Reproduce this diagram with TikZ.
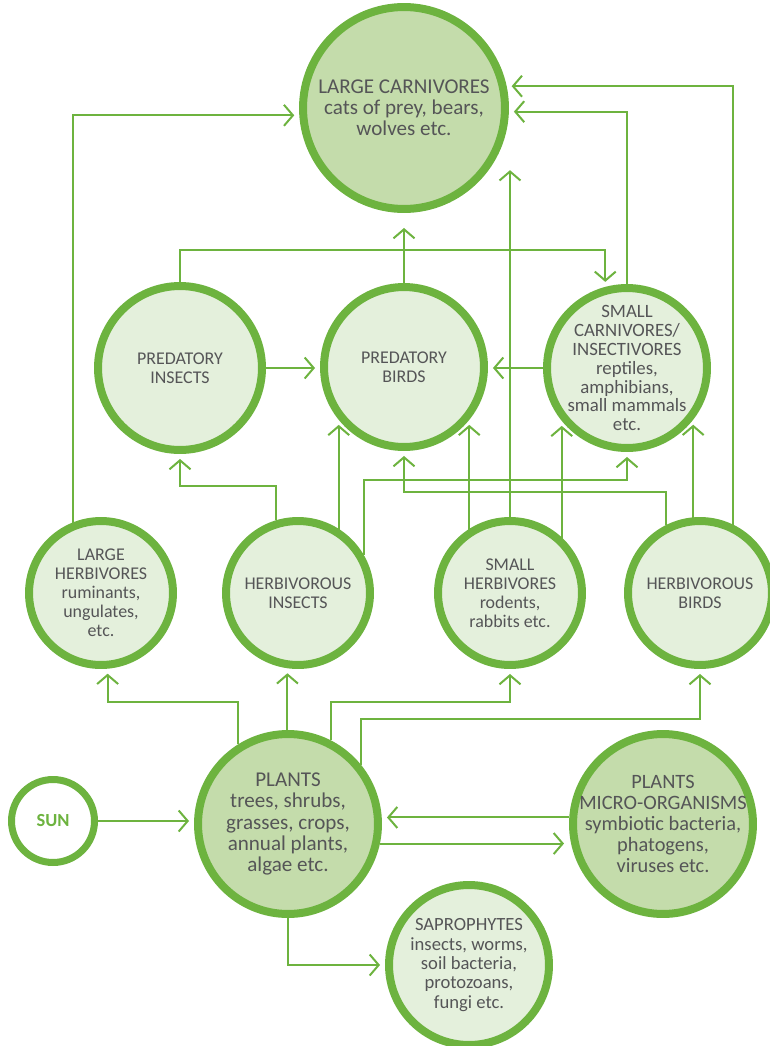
\documentclass[tikz,border=0pt]{standalone}
\usepackage{fontspec}
\setmainfont{Carlito}
\usetikzlibrary{arrows.meta,backgrounds}
\definecolor{leaf}{HTML}{6DB33F}
\definecolor{darkfill}{HTML}{C4DCAB}
\definecolor{lightfill}{HTML}{E4F0DC}
\definecolor{inkgray}{HTML}{555557}

\begin{document}
\begin{tikzpicture}[x=0.02cm,y=-0.02cm,
		organism/.style={circle, draw=leaf, line width=0.16cm, fill=lightfill, text=inkgray, align=center, inner sep=0pt, font=\fontsize{10.2}{10.8}\selectfont},
		producer/.style={organism, fill=darkfill, font=\fontsize{12}{12}\selectfont},
		caption/.style={align=center, text=inkgray, font=\fontsize{#1}{12}\selectfont},
		link/.style={leaf, line width=0.04cm, -{Straight Barb[length=0.18cm,width=0.42cm]}, shorten >=0.1cm}]
		\useasboundingbox (0,0) rectangle (770,1046);

		% top level
		\node[producer, minimum size=4.04cm] (lc) at (404,108) {LARGE CARNIVORES\\cats of prey, bears,\\wolves etc.};

		% predators
		\node[organism, minimum size=3.28cm] (pi) at (180,368) {PREDATORY\\INSECTS};
		\node[organism, minimum size=3.2cm] (pb) at (404,367) {PREDATORY\\BIRDS};
		\node[organism, minimum size=3.2cm, label={[caption=10.7, font=\fontsize{10.7}{10.8}\selectfont]center:{SMALL\\CARNIVORES/\\INSECTIVORES\\reptiles,\\amphibians,\\small mammals\\etc.}}] (sc) at (627,368) {};

		% herbivores
		\node[organism, minimum size=2.88cm] (lh) at (101,593) {LARGE\\HERBIVORES\\ruminants,\\ungulates,\\etc.};
		\node[organism, minimum size=2.88cm] (hi) at (298,593) {HERBIVOROUS\\INSECTS};
		\node[organism, minimum size=2.88cm] (sh) at (510,593) {SMALL\\HERBIVORES\\rodents,\\rabbits etc.};
		\node[organism, minimum size=2.88cm] (hb) at (700,593) {HERBIVOROUS\\BIRDS};

		% bottom level
		\node[organism, fill=white, line width=0.14cm, minimum size=1.66cm, text=leaf, font=\fontsize{10.5}{12}\selectfont\bfseries] (sun) at (53,821) {SUN};
		\node[producer, minimum size=3.6cm] (pl) at (288,824) {PLANTS\\trees, shrubs,\\grasses, crops,\\annual plants,\\algae etc.};
		\node[producer, minimum size=3.6cm, label={[caption=11.6]center:{PLANTS\\MICRO-ORGANISMS\\symbiotic bacteria,\\phatogens,\\viruses etc.}}] (mo) at (663,824) {};
		\node[organism, minimum size=3.2cm, font=\fontsize{10.6}{11}\selectfont] (sap) at (469,965) {SAPROPHYTES\\insects, worms,\\soil bacteria,\\protozoans,\\fungi etc.};

		\begin{scope}[on background layer]
		\draw[link] (sun.east) -- (sun.east -| pl.west);
		\draw[link] (pl.122) -- (pl.122 |- 0,702) -| (lh.-85);
		\draw[link] (hi.-98 |- pl.north) -- (hi.-98);
		\draw[link] (pl.63) -- (pl.63 |- 0,702) -| (sh.south);
		\draw[link] (pl.39) -- (pl.39 |- 0,719) -| (hb.south);
		\draw[link] (pl.-12) -- (pl.-12 -| mo.west);
		\draw[link] (mo.176) -- (mo.176 -| pl.east);
		\draw[link] (pl.south) |- (sap.west);

		\draw[link] (lh.112) |- (lc.184);
		\draw[link] (hi.107) -- (hi.107 |- 0,486) -| (pi.south);
		\draw[link] (pb.219 |- hi.center) -- (pb.219);
		\draw[link] (hi.30) -- (hi.30 |- 0,480) -| (sc.south);
		\draw[link] (hb.117) -- (hb.117 |- 0,492) -| (pb.south);
		\draw[link] (pb.-39 |- sh.center) -- (pb.-39);
		\draw[link] (sh.north) -- (sh.north |- lc.-33);
		\draw[link] (sc.219 |- sh.center) -- (sc.219);
		\draw[link] (sc.-38 |- hb.center) -- (sc.-38);
		\draw[link] (hb.64) |- (lc.12);

		\draw[link] (sc.north) |- (lc.-2);
		\draw[link] (pi.north) -- (pi.north |- 0,250) -| (sc.105);
		\draw[link, shorten >=0.3cm] (pb.north) -- (lc.south);
		\draw[link] (pi.east) -- (pi.east -| pb.west);
		\draw[link] (sc.west) -- (sc.west -| pb.east);
		\end{scope}
	\end{tikzpicture}
\end{document}
